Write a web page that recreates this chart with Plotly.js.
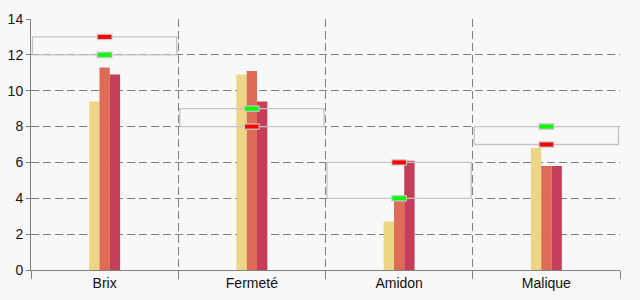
<!DOCTYPE html>
<html><head><meta charset="utf-8">
<script src="https://cdn.plot.ly/plotly-3.0.1.min.js"></script>
<style>html,body{margin:0;padding:0;background:#f8f8f8}</style>
</head><body>
<div id="chart" style="width:640px;height:300px"></div>
<script>
const categories = ["Brix", "Fermeté", "Amidon", "Malique"];
const series1 = [9.4, 10.9, 2.7, 6.8];
const series2 = [11.3, 11.1, 4.0, 5.8];
const series3 = [10.9, 9.4, 6.1, 5.8];
const redMark = [13, 8, 6, 7];
const greenMark = [12, 9, 4, 8];
const yTicks = [0, 2, 4, 6, 8, 10, 12, 14];

const idx = categories.map((c, i) => i);
const colors = ["#edd586", "#dd6b55", "#c53d58"];
const traces = [];
[series1, series2, series3].forEach((s, k) => {
  traces.push({type: "bar", x: idx, y: s, marker: {color: colors[k], line: {width: 0}},
    xaxis: "x", yaxis: "y", hoverinfo: "skip"});
});
// range boxes
categories.forEach((c, i) => {
  const lo = Math.min(redMark[i], greenMark[i]);
  const hi = Math.max(redMark[i], greenMark[i]);
  const a = i - 0.49, b = i + 0.49;
  traces.push({type: "scatter", mode: "lines", x: [a, b, b, a, a], y: [lo, lo, hi, hi, lo],
    line: {color: "#c4c4c4", width: 1.3}, xaxis: "x2", yaxis: "y", hoverinfo: "skip"});
});
// markers: short horizontal segments with a grey border
function segs(arr, half) {
  const xs = [], ys = [];
  arr.forEach((v, i) => { xs.push(i - half, i + half, null); ys.push(v, v, null); });
  return {xs, ys};
}
[[redMark, "#ff0000"], [greenMark, "#00ff00"]].forEach(([arr, col]) => {
  const outer = segs(arr, 0.053), inner = segs(arr, 0.046);
  traces.push({type: "scatter", mode: "lines", x: outer.xs, y: outer.ys, xaxis: "x2",
    line: {color: "#c4c4c4", width: 6.5}, hoverinfo: "skip"});
  traces.push({type: "scatter", mode: "lines", x: inner.xs, y: inner.ys, xaxis: "x2",
    line: {color: col, width: 4}, hoverinfo: "skip"});
});

const layout = {
  width: 640, height: 300,
  margin: {l: 31, r: 20, t: 19, b: 30},
  paper_bgcolor: "#f8f8f8", plot_bgcolor: "#f8f8f8",
  showlegend: false,
  barmode: "group", bargap: 0.79, bargroupgap: 0,
  font: {family: "Liberation Sans, Arial, sans-serif", size: 14, color: "#111"},
  xaxis: {type: "linear", range: [-0.5, 3.5], tickvals: idx, ticktext: categories,
    showgrid: false, zeroline: false, showline: true, linecolor: "#808080", linewidth: 1,
    ticks: "", fixedrange: true},
  xaxis2: {type: "linear", range: [-0.5, 3.5], overlaying: "x", anchor: "y", side: "bottom",
    tickvals: [-0.5, 0.5, 1.5, 2.5, 3.5], showticklabels: false,
    showgrid: true, gridcolor: "#808080", griddash: "8px,4px", gridwidth: 1,
    ticks: "outside", ticklen: 8, tickcolor: "#808080", zeroline: false, showline: false},
  yaxis: {range: [0, 14], tickvals: yTicks, showgrid: true, gridcolor: "#808080",
    griddash: "8px,4px", gridwidth: 1, zeroline: false, showline: true, linecolor: "#808080",
    ticks: "outside", ticklen: 4, tickcolor: "#808080", fixedrange: true}
};
Plotly.newPlot("chart", traces, layout, {staticPlot: true, displayModeBar: false});
</script>
</body></html>
